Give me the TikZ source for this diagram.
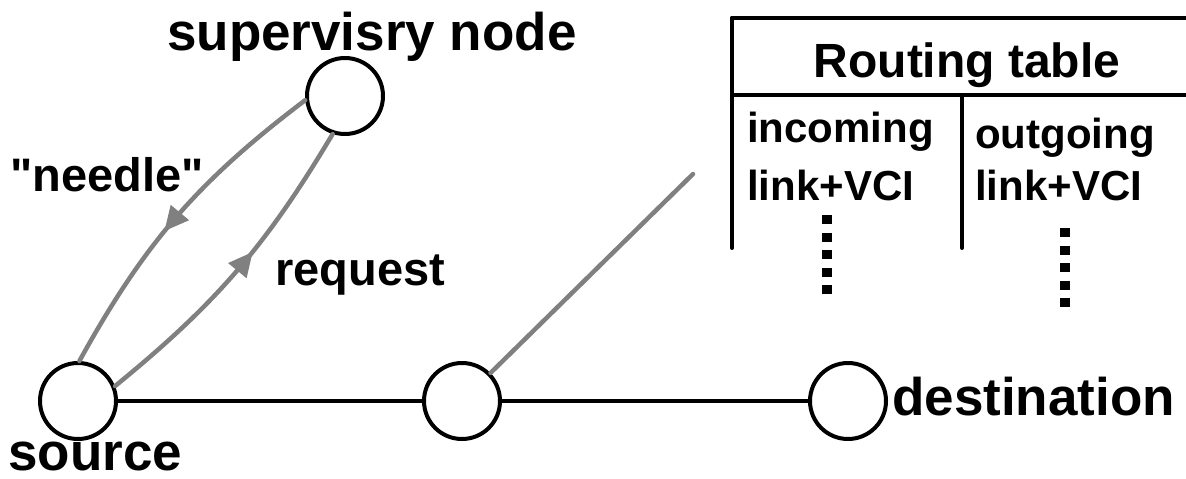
\documentclass[tikz,border=0pt]{standalone}
\usepackage{fontspec}
\setmainfont{Liberation Sans}
\usetikzlibrary{decorations.markings}
\definecolor{linkgray}{HTML}{808080}
\tikzset{
  station/.style={circle,draw=black,line width=4pt,minimum size=76pt,inner sep=0pt,fill=white},
  lbl/.style={inner sep=0pt,font=\bfseries\fontsize{53}{60}\selectfont},
  midlbl/.style={inner sep=0pt,font=\bfseries\fontsize{47}{54}\selectfont},
  titlelbl/.style={inner sep=0pt,font=\bfseries\fontsize{48}{54}\selectfont},
  celllbl/.style={inner sep=0pt,font=\bfseries\fontsize{42}{48}\selectfont},
  link/.style={black,line width=4pt},
  signal/.style={linkgray,line width=4.5pt,line cap=round},
  midarrow/.style={postaction={decorate},decoration={markings,
      mark=at position #1 with {\fill[linkgray] (8pt,0) -- (-16pt,12pt) -- (-16pt,-12pt) -- cycle;}}},
  rule/.style={black,line width=4pt,line cap=round},
  ellipsis/.style={black,line width=10pt,dash pattern=on 9pt off 8.5pt}
}
\begin{document}
\begin{tikzpicture}[x=1pt,y=1pt]
\useasboundingbox (0,0) rectangle (1186,-479);

% stations
\node[station] (sup) at (345,-96) {};
\node[station] (src) at (78,-401) {};
\node[station] (mid) at (462,-401) {};
\node[station] (dst) at (848,-401) {};

% physical links
\draw[link] (src) -- (mid);
\draw[link] (mid) -- (dst);

% signalling between source and supervisory node
\draw[signal,midarrow=0.53] (sup.186) to[bend right=12] (src.88);
\draw[signal,midarrow=0.55] (src.22) to[bend right=10] (sup.252);

% pointer from the switch to its routing table
\coordinate (tabptr) at (693,-174);
\draw[signal] (mid) -- (tabptr);

% labels
\node[lbl,anchor=base west] (lsup) at (167,-50) {supervisry node};
\node[midlbl,anchor=base west] (lneedle) at (10,-191) {\textquotedbl needle\textquotedbl};
\node[midlbl,anchor=base west] (lreq) at (275,-285) {request};
\node[lbl,anchor=base west] (lsrc) at (8,-470) {source};
\node[lbl,anchor=base west] (ldst) at (892,-415) {destination};

% routing table
\draw[rule] (732,-18) -- (1186,-18);
\draw[rule] (732,-18) -- (732,-248);
\draw[rule] (732,-95) -- (1186,-95);
\draw[rule] (962,-95) -- (962,-248);
\node[titlelbl,anchor=base] (ttitle) at (967,-77) {Routing table};
\node[celllbl,anchor=base west] (tin1) at (747,-142) {incoming};
\node[celllbl,anchor=base west] (tin2) at (747,-200) {link+VCI};
\node[celllbl,anchor=base west] (tout1) at (975,-148) {outgoing};
\node[celllbl,anchor=base west] (tout2) at (975,-200) {link+VCI};
\draw[ellipsis] (827,-215) -- (827,-294);
\draw[ellipsis] (1065,-228) -- (1065,-307);
\end{tikzpicture}
\end{document}
